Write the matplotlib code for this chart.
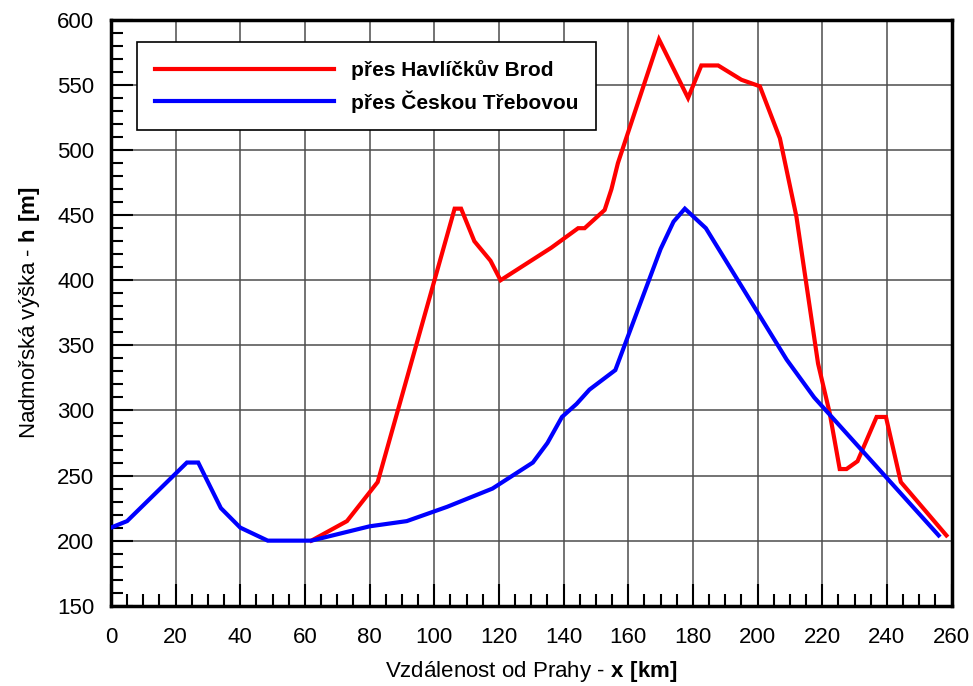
import matplotlib
matplotlib.use('Agg')
import matplotlib.pyplot as plt
from matplotlib.ticker import MultipleLocator

plt.rcParams['font.family'] = ['Liberation Sans', 'DejaVu Sans']
plt.rcParams['mathtext.fontset'] = 'custom'
plt.rcParams['mathtext.rm'] = 'Liberation Sans'
plt.rcParams['mathtext.bf'] = 'Liberation Sans:bold'

# route via Havlickuv Brod
red_x = [62, 73, 82.5, 106.3, 108.3, 112.4, 117.4, 120.5, 136.2, 144.5, 146.5, 152.7, 154.8, 156.8,
         169.5, 178.5, 182.6, 187.8, 195, 200.7, 206.9, 212, 218.7, 222.3, 225.4, 227.5, 230.9,
         236.8, 239.7, 244.3, 258.4]
red_y = [200, 215, 245, 455, 455, 430, 415, 400, 425, 440, 440, 454, 470, 490,
         585, 540, 565, 565, 554, 549, 509, 449, 336, 298, 255, 255, 261,
         295, 295, 245, 204]

# route via Ceska Trebova
blue_x = [0, 5, 23.5, 27, 34, 40, 48.5, 62, 80, 91.5, 104, 118, 130.5, 135, 139.5, 144, 148,
          156, 170, 174, 177.5, 184, 209, 217.5, 256]
blue_y = [210, 215, 260, 260, 225, 210, 200, 200, 211, 215, 226, 240, 260, 275, 295, 305, 316,
          331, 424, 445, 455, 440, 339, 310, 204]

fig = plt.figure(figsize=(9.73, 6.86), dpi=100)
ax = fig.add_axes([0.114, 0.117, 0.864, 0.854])

ax.plot(red_x, red_y, color='#ff0000', lw=3, solid_joinstyle='miter',
        label='přes Havlíčkův Brod', zorder=3)
ax.plot(blue_x, blue_y, color='#0000ff', lw=3, solid_joinstyle='miter',
        label='přes Českou Třebovou', zorder=3)

ax.set_xlim(0, 260)
ax.set_ylim(150, 600)
ax.xaxis.set_major_locator(MultipleLocator(20))
ax.xaxis.set_minor_locator(MultipleLocator(5))
ax.yaxis.set_major_locator(MultipleLocator(50))
ax.yaxis.set_minor_locator(MultipleLocator(10))

ax.grid(True, which='major', color='0.3', lw=1.1)
ax.tick_params(which='both', direction='in', top=False, right=False, width=1.5)
ax.tick_params(which='major', length=16, labelsize=16)
ax.tick_params(axis='x', which='major', pad=15)
ax.tick_params(axis='y', which='major', pad=12)
ax.tick_params(which='minor', length=8.5)
for s in ax.spines.values():
    s.set_linewidth(2.5)

ax.set_xlabel(r'Vzdálenost od Prahy - $\mathbf{x\ [km]}$', fontsize=16, labelpad=8)
ax.set_ylabel(r'Nadmořská výška - $\mathbf{h\ [m]}$', fontsize=16, labelpad=11)

leg = ax.legend(loc='upper left', bbox_to_anchor=(0.031, 0.962), borderaxespad=0,
                prop={'weight': 'bold', 'size': 15}, handlelength=8.6, handletextpad=0.8,
                labelspacing=0.5, borderpad=0.85, fancybox=False, framealpha=1,
                edgecolor='black')
leg.get_frame().set_linewidth(1.2)

fig.savefig('out.png', dpi=100)
